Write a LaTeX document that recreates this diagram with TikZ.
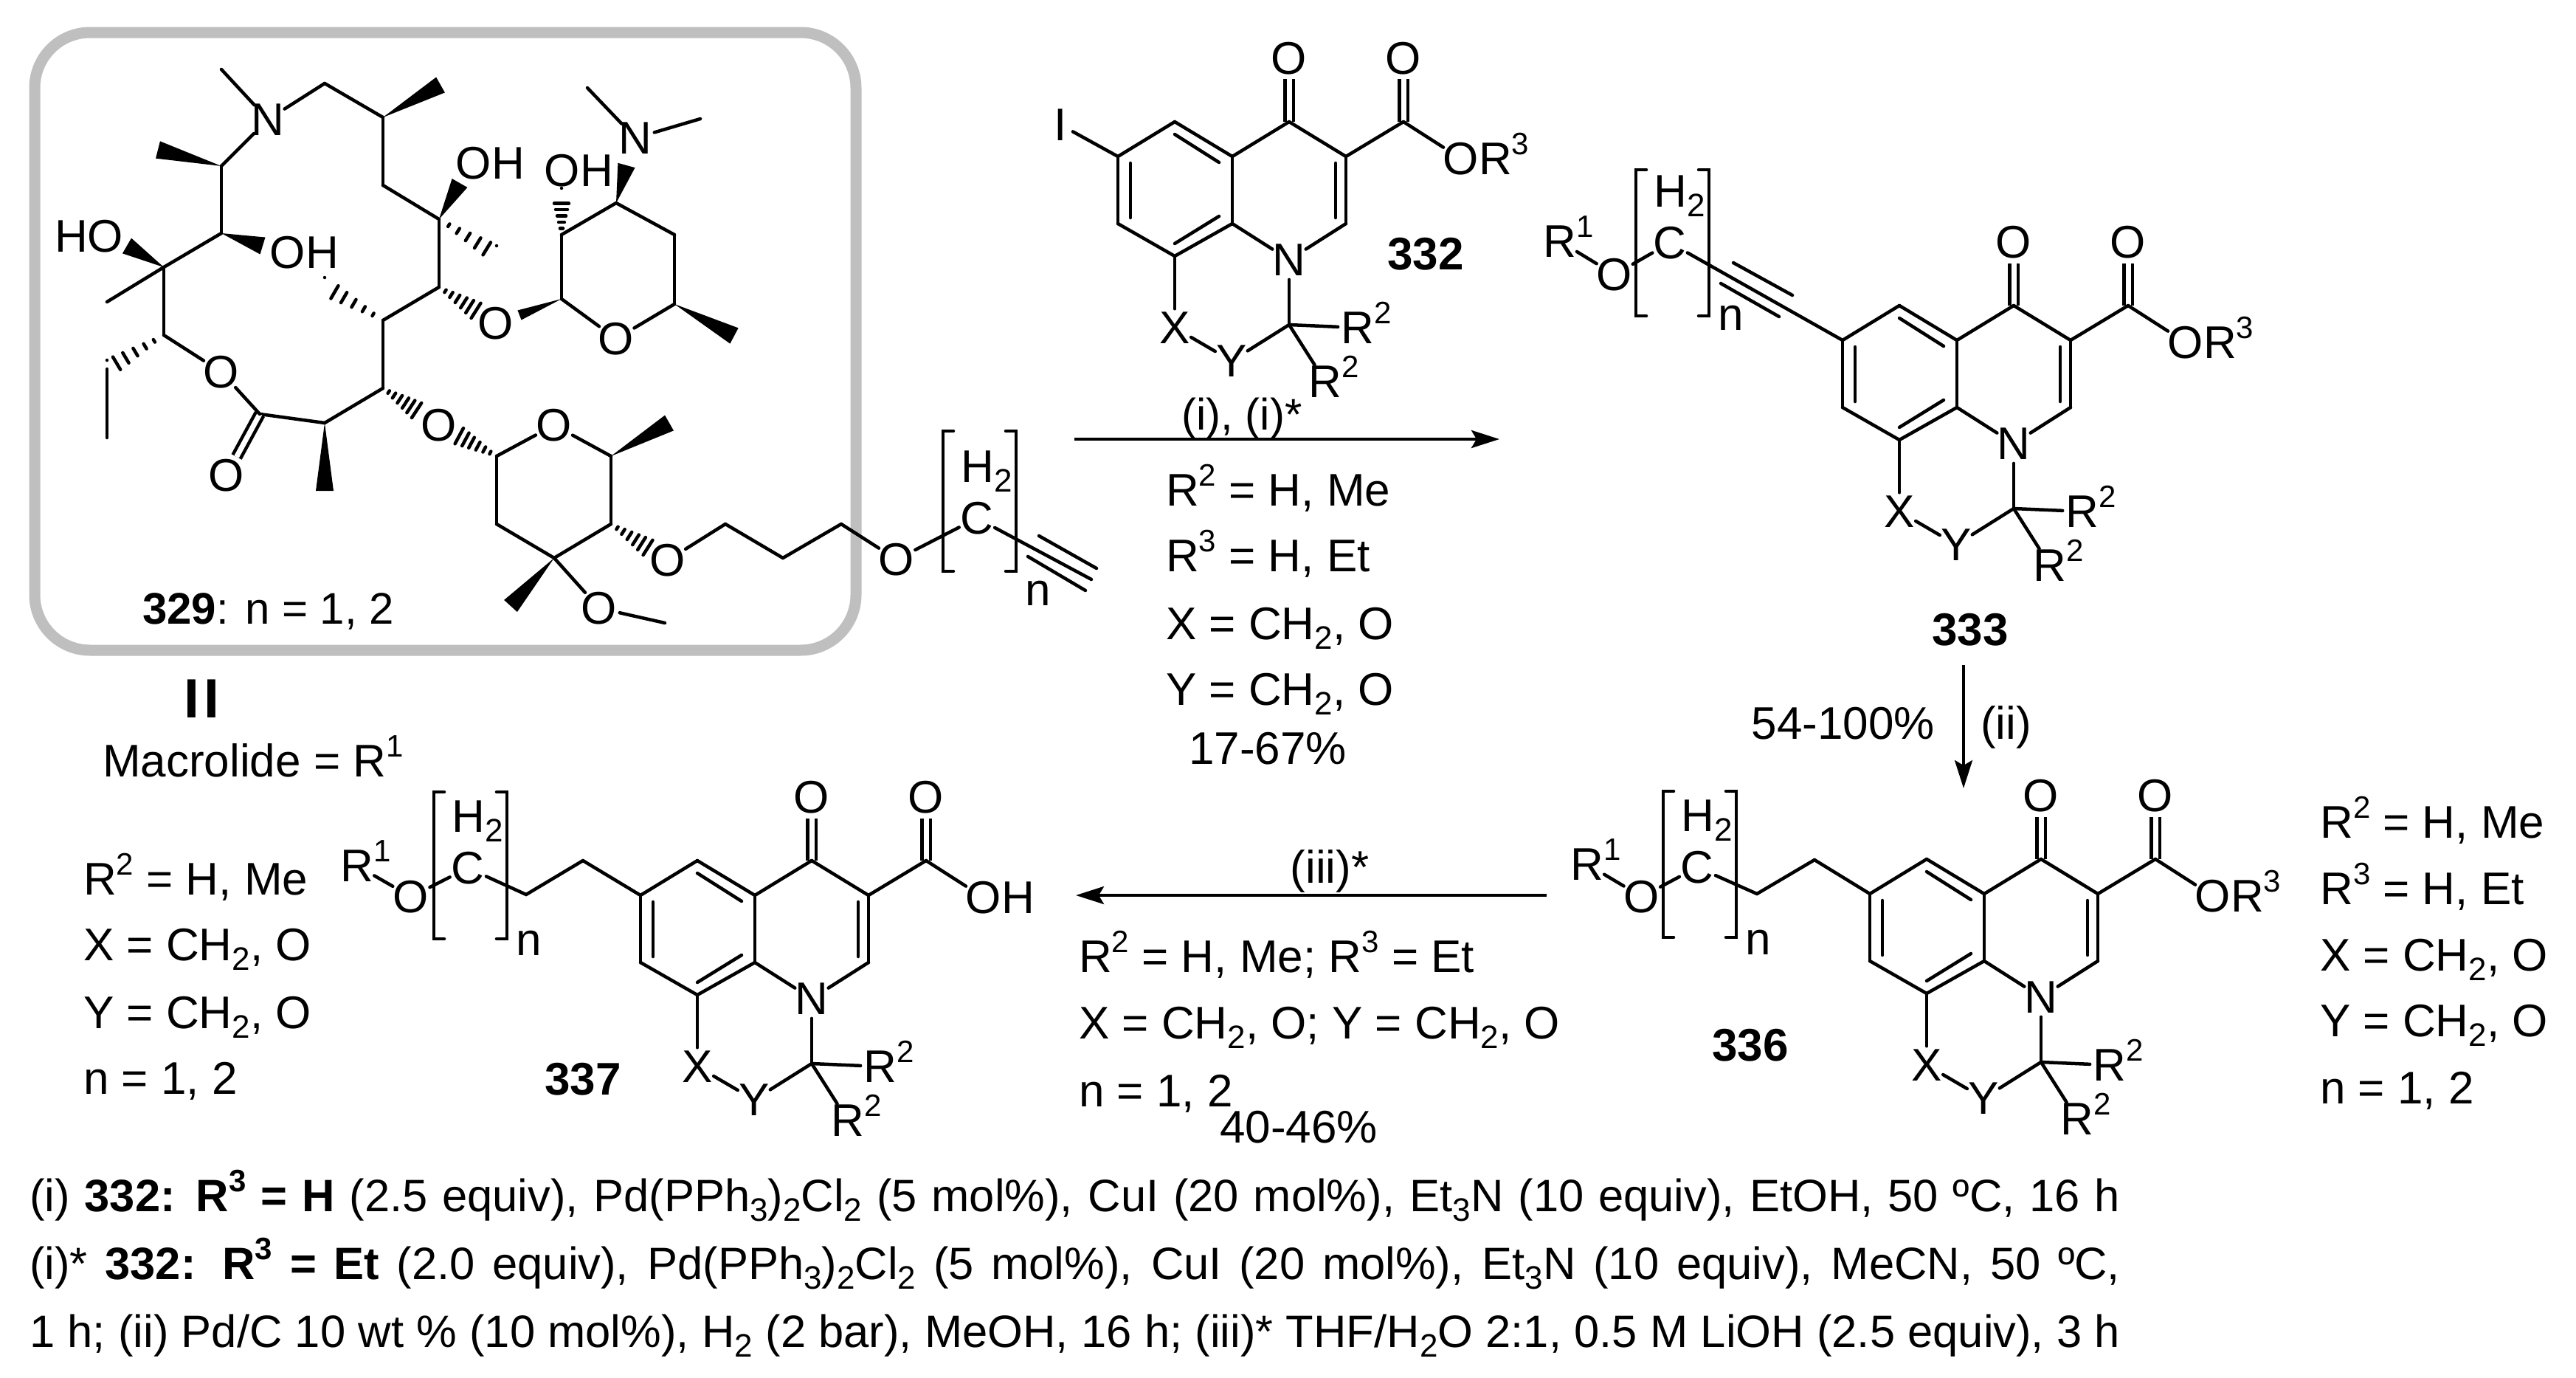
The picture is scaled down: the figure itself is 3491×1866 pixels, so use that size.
\documentclass[tikz,border=0pt]{standalone}
\usepackage{fontspec}
\setmainfont{Liberation Sans}
\usetikzlibrary{calc,arrows.meta}
\newcommand{\tsup}[1]{\raisebox{27pt}{\fontsize{42}{42}\selectfont #1}}
\newcommand{\tsub}[1]{\raisebox{-13pt}{\fontsize{44}{44}\selectfont #1}}
\newcommand{\hangtxt}[1]{\smash{\rlap{#1}}}
\newcommand{\hashbond}[3]{%
  \foreach \t in {0.17,0.33,0.5,0.67,0.83,1.0}
    \draw[bond] ($(#1)!\t*#3!(#2)!\t*12pt!90:(#2)$) -- ($(#1)!\t*#3!(#2)!\t*12pt!-90:(#2)$);}
\newcommand{\wedgebond}[3][12]{%
  \fill (#2) -- ($(#3)!#1pt!90:(#2)$) -- ($(#3)!#1pt!-90:(#2)$) -- cycle;}
\newcommand{\polyunit}[4]{%
  \begin{scope}[shift={(#1,#2)}]
    \path
      (0,0) node[atom] (c){C}
      (13,-70) node[atom] (h){H\smash{\tsub{2}}}
      (83,102) node[atom] (n){n};
    \draw[bond] (-32,#3) -- (-46,#3) -- (-46,#4) -- (-32,#4);
    \draw[bond] (39,#3) -- (53,#3) -- (53,#4) -- (39,#4);
  \end{scope}}
\newcommand{\quinolone}[3]{%
  \begin{scope}[shift={(#1,#2)}]
    \path
      (0,0) coordinate (c5)
      (-77,47) coordinate (c6)
      (-77,138) coordinate (c7)
      (0,182) coordinate (c8)
      (78,138) coordinate (c8a)
      (78,47) coordinate (c4a)
      (155,0) coordinate (c4)
      (232,47) coordinate (c3)
      (232,138) coordinate (c2)
      (310,0) coordinate (cc)
      (155,275) coordinate (cr)
      (155,187) node[atom] (n1){N}
      (155,-86) node[atom] (o4){O}
      (310,-86) node[atom] (o5){O}
      (388,50) node[atom] (o6){#3}
      (0,279) node[atom] (x){X}
      (77,324) node[atom] (y){Y}
      (248,279) node[atom] (r2){R\hangtxt{\tsup{2}}}
      (204,352) node[atom] (r3){R\hangtxt{\tsup{2}}};
    \begin{scope}[bond]
      \draw[dbl] (c4) to (o4);
      \draw[dbl] (cc) to (o5);
      \draw (c5) to (c6);
      \draw (c6) to (c7);
      \draw (c7) to (c8);
      \draw (c8) to (c8a);
      \draw (c8a) to (c4a);
      \draw (c4a) to (c5);
      \draw (c4a) to (c4);
      \draw (c4) to (c3);
      \draw (c3) to (c2);
      \draw (c2) to (n1);
      \draw (n1) to (c8a);
      \draw (c3) to (cc);
      \draw (cc) to (o6);
      \draw (c8) to (x);
      \draw (x) to (y);
      \draw (y) to (cr);
      \draw (n1) to (cr);
      \draw (cr) to (r2);
      \draw (cr) to (r3);
      % inner lines of the double bonds
      \draw (-60,56) to (-60,130);
      \draw (0,17) to (60,55);
      \draw (0,165) to (60,128);
      \draw (218,56) to (218,130);
    \end{scope}
  \end{scope}}
\tikzset{
  every node/.style={font=\fontsize{62}{70}\selectfont},
  bond/.style={line width=4.5pt,line cap=round},
  dbl/.style={double,double distance=7pt,line width=4.5pt,line cap=butt},
  atom/.style={circle,inner sep=-3pt},
  txt/.style={anchor=base west,inner sep=0pt},
  mid/.style={anchor=base,inner sep=0pt},
  small/.style={font=\fontsize{60}{70}\selectfont},
  foot/.style={txt,font=\fontsize{61.5}{70}\selectfont},
  rxn/.style={line width=4pt,-{Stealth[length=38pt,width=24pt,inset=7pt]}},
  panel/.style={draw=black!25,line width=15pt,rounded corners=75pt}
}
\begin{document}
\begin{tikzpicture}[x=1pt,y=-1pt]
  \useasboundingbox (0,0) rectangle (3491,1866);
  \fill[white] (0,0) rectangle (3491,1866);
  \draw[panel] (47,44) rectangle (1160,881);
  % macrolide
  \path
    (300,94) coordinate (me1)
    (363,162) node[atom] (n1){N}
    (440,113) coordinate (m2)
    (519,159) coordinate (m3)
    (597,115) coordinate (w3)
    (519,251) coordinate (m4)
    (595,297) coordinate (m5)
    (642,221) node[atom] (oh1){O\hangtxt{H}}
    (623,248) coordinate (w5)
    (673,345) coordinate (h5)
    (595,389) coordinate (m6)
    (519,434) coordinate (m7)
    (440,388) coordinate (h7)
    (672,438) node[atom] (o1){O}
    (519,526) coordinate (m8)
    (595,576) node[atom] (o2){O}
    (440,573) coordinate (m9)
    (440,665) coordinate (w9)
    (352,561) coordinate (m10)
    (307,644) node[atom] (o3){O}
    (300,504) node[atom] (o4){O}
    (222,454) coordinate (m11)
    (145,500) coordinate (e1)
    (145,593) coordinate (e2)
    (222,362) coordinate (m12)
    (145,409) coordinate (me2)
    (143,320) node[atom] (oh2){\llap{H}O}
    (172,333) coordinate (w12)
    (300,316) coordinate (m13)
    (390,342) node[atom] (oh3){O\hangtxt{H}}
    (356,333) coordinate (w13)
    (300,225) coordinate (m14)
    (214,203) coordinate (w14);
  % amino sugar
  \path
    (761,405) coordinate (s1)
    (704,427) coordinate (ws1)
    (835,459) node[atom] (so){O}
    (914,412) coordinate (s5)
    (995,455) coordinate (ws5)
    (914,318) coordinate (s4)
    (835,275) coordinate (s3)
    (849,224) coordinate (ws3)
    (861,187) node[atom] (n2){N}
    (796,119) coordinate (me3)
    (949,161) coordinate (me4)
    (761,318) coordinate (s2)
    (761,267) coordinate (hs2)
    (762,231) node[atom] (oh4){O\hangtxt{H}};
  % second sugar with the linker
  \path
    (673,618) coordinate (t1)
    (751,576) node[atom] (to){O}
    (828,618) coordinate (t5)
    (907,573) coordinate (wt5)
    (828,710) coordinate (t4)
    (751,756) coordinate (t3)
    (673,710) coordinate (t2)
    (692,821) coordinate (wt3)
    (812,824) node[atom] (o7){O}
    (901,844) coordinate (me5)
    (905,759) node[atom] (o8){O}
    (983,710) coordinate (l1)
    (1061,756) coordinate (l2)
    (1140,710) coordinate (l3)
    (1215,758) node[atom] (o9){O}
    (1479,785) coordinate (y1)
    (1408,726) coordinate (y2)
    (1486,770) coordinate (y3)
    (1393,754) coordinate (y4)
    (1471,800) coordinate (y5);
  \begin{scope}[name prefix=p-]
    \polyunit{1324}{702}{-118}{72}
  \end{scope}
  \begin{scope}[bond]
    \draw (me1) to (n1);
    \draw (n1) to (m2);
    \draw (m2) to (m3);
    \draw (m3) to (m4);
    \draw (m4) to (m5);
    \draw (m5) to (m6);
    \draw (m6) to (m7);
    \draw (m7) to (m8);
    \draw (m8) to (m9);
    \draw (m9) to (m10);
    \draw[dbl] (m10) to (o3);
    \draw (m10) to (o4);
    \draw (o4) to (m11);
    \draw (m11) to (m12);
    \draw (m12) to (me2);
    \draw (m12) to (m13);
    \draw (m13) to (m14);
    \draw (m14) to (n1);
    \draw (e1) to (e2);
    \draw (s1) to (so);
    \draw (so) to (s5);
    \draw (s5) to (s4);
    \draw (s4) to (s3);
    \draw (s3) to (s2);
    \draw (s2) to (s1);
    \draw (n2) to (me3);
    \draw (n2) to (me4);
    \draw (t1) to (to);
    \draw (to) to (t5);
    \draw (t5) to (t4);
    \draw (t4) to (t3);
    \draw (t3) to (t2);
    \draw (t2) to (t1);
    \draw (t3) to (o7);
    \draw (o7) to (me5);
    \draw (o8) to (l1);
    \draw (l1) to (l2);
    \draw (l2) to (l3);
    \draw (l3) to (o9);
    \draw (o9) to (p-c);
    \draw (p-c) to (y1);
    \draw (y2) to (y3);
    \draw (y4) to (y5);
  \end{scope}
  \wedgebond{m3}{w3}
  \wedgebond{m5}{w5}
  \wedgebond{m9}{w9}
  \wedgebond{m12}{w12}
  \wedgebond{m13}{w13}
  \wedgebond{m14}{w14}
  \wedgebond[7]{s1}{ws1}
  \wedgebond{s5}{ws5}
  \wedgebond{s3}{ws3}
  \wedgebond{t5}{wt5}
  \wedgebond{t3}{wt3}
  \hashbond{m5}{h5}{1}
  \hashbond{m7}{h7}{1}
  \hashbond{m6}{o1}{0.65}
  \hashbond{m8}{o2}{0.6}
  \hashbond{t1}{o2}{0.65}
  \hashbond{t4}{o8}{0.65}
  \hashbond{m11}{e1}{1}
  \hashbond{s2}{hs2}{1}
  \node[txt,small] (lab329) at (193,845) {\textbf{329}: n = 1, 2};
  \node[font=\fontsize{75}{80}\selectfont\bfseries,inner sep=0pt] (labII) at (273,947) {I\kern6pt I};
  \node[txt] (macro) at (139,1052) {Macrolide = R\tsup{1}};
  % iodide
  \begin{scope}[name prefix=a-]
    \quinolone{1592}{165}{O\hangtxt{R\tsup{3}}}
    \path (1437,169) node[atom] (i){I};
    \draw[bond] (i) to (c6);
  \end{scope}
  \node[mid] (lab332) at (1932,365) {\textbf{332}};
  \path (1456,595) coordinate (ar1a) (2032,595) coordinate (ar1b);
  \draw[rxn] (ar1a) -- (ar1b);
  \node[txt,small] (cond1) at (1601,582) {(i), (i)*};
  \node[txt] (cond2) at (1580,685) {R\tsup{2} = H, Me};
  \node[txt] (cond3) at (1580,774) {R\tsup{3} = H, Et};
  \node[txt] (cond4) at (1580,866) {X = CH\tsub{2}, O};
  \node[txt] (cond5) at (1580,955) {Y = CH\tsub{2}, O};
  \node[txt] (cond6) at (1611,1035) {17-67\%};
  % alkyne
  \begin{scope}[name prefix=b-]
    \quinolone{2574}{414}{O\hangtxt{R\tsup{3}}}
    \polyunit{2263}{329}{-99}{99}
    \path
      (2114,327) node[atom] (r1){R\hangtxt{\tsup{1}}}
      (2188,372) node[atom] (o){O}
      (2349,356) coordinate (y1)
      (2429,400) coordinate (y2)
      (2332,384) coordinate (y3)
      (2411,429) coordinate (y4);
    \begin{scope}[bond]
      \draw (r1) to (o);
      \draw (o) to (c);
      \draw (c) to (c6);
      \draw (y1) to (y2);
      \draw (y3) to (y4);
    \end{scope}
  \end{scope}
  \node[mid] (lab333) at (2670,874) {\textbf{333}};
  \path (2661,901) coordinate (ar2a) (2661,1068) coordinate (ar2b);
  \draw[rxn] (ar2a) -- (ar2b);
  \node[txt,anchor=base east] (yield2) at (2622,1001) {54-100\%};
  \node[txt] (cond7) at (2684,1001) {(ii)};
  % reduced ester
  \begin{scope}[name prefix=c-]
    \quinolone{2611}{1164}{O\hangtxt{R\tsup{3}}}
    \polyunit{2300}{1175}{-103}{95}
    \path
      (2151,1171) node[atom] (r1){R\hangtxt{\tsup{1}}}
      (2225,1215) node[atom] (o){O}
      (2459,1165) coordinate (l1)
      (2381,1211) coordinate (l2);
    \begin{scope}[bond]
      \draw (r1) to (o);
      \draw (o) to (c);
      \draw (c) to (l2);
      \draw (l2) to (l1);
      \draw (l1) to (c6);
    \end{scope}
  \end{scope}
  \node[mid] (lab336) at (2372,1437) {\textbf{336}};
  \node[txt] (rt1) at (3144,1135) {R\tsup{2} = H, Me};
  \node[txt] (rt2) at (3144,1225) {R\tsup{3} = H, Et};
  \node[txt] (rt3) at (3144,1315) {X = CH\tsub{2}, O};
  \node[txt] (rt4) at (3144,1404) {Y = CH\tsub{2}, O};
  \node[txt] (rt5) at (3144,1495) {n = 1, 2};
  \path (2096,1213) coordinate (ar3a) (1458,1213) coordinate (ar3b);
  \draw[rxn] (ar3a) -- (ar3b);
  \node[mid] (cond8) at (1802,1196) {(iii)*};
  \node[txt] (cond9) at (1462,1317) {R\tsup{2} = H, Me; R\tsup{3} = Et};
  \node[txt] (cond10) at (1462,1407) {X = CH\tsub{2}, O; Y = CH\tsub{2}, O};
  \node[txt] (cond11) at (1462,1499) {n = 1, 2};
  \node[txt] (yield3) at (1653,1548) {40-46\%};
  % acid
  \begin{scope}[name prefix=d-]
    \quinolone{945}{1166}{O\hangtxt{H}}
    \polyunit{634}{1176}{-103}{96}
    \path
      (484,1173) node[atom] (r1){R\hangtxt{\tsup{1}}}
      (557,1215) node[atom] (o){O}
      (790,1166) coordinate (l1)
      (713,1212) coordinate (l2);
    \begin{scope}[bond]
      \draw (r1) to (o);
      \draw (o) to (c);
      \draw (c) to (l2);
      \draw (l2) to (l1);
      \draw (l1) to (c6);
    \end{scope}
  \end{scope}
  \node[mid] (lab337) at (790,1483) {\textbf{337}};
  \node[txt] (lf1) at (113,1212) {R\tsup{2} = H, Me};
  \node[txt] (lf2) at (113,1301) {X = CH\tsub{2}, O};
  \node[txt] (lf3) at (113,1393) {Y = CH\tsub{2}, O};
  \node[txt] (lf4) at (113,1482) {n = 1, 2};
  % footnote
  \node[foot] (foot1) at (40,1641) {\makebox[2833pt][s]{(i) \textbf{332: R\tsup{3} = H} (2.5 equiv), Pd(PPh\tsub{3})\tsub{2}Cl\tsub{2} (5 mol\%), CuI (20 mol\%), Et\tsub{3}N (10 equiv), EtOH, 50 ºC, 16 h}};
  \node[foot] (foot2) at (40,1733) {\makebox[2833pt][s]{(i)* \textbf{332: R\tsup{3} = Et} (2.0 equiv), Pd(PPh\tsub{3})\tsub{2}Cl\tsub{2} (5 mol\%), CuI (20 mol\%), Et\tsub{3}N (10 equiv), MeCN, 50 ºC,}};
  \node[foot] (foot3) at (40,1825) {\makebox[2833pt][s]{1 h; (ii) Pd/C 10 wt \% (10 mol\%), H\tsub{2} (2 bar), MeOH, 16 h; (iii)* THF/H\tsub{2}O 2:1, 0.5 M LiOH (2.5 equiv), 3 h}};
\end{tikzpicture}
\end{document}
